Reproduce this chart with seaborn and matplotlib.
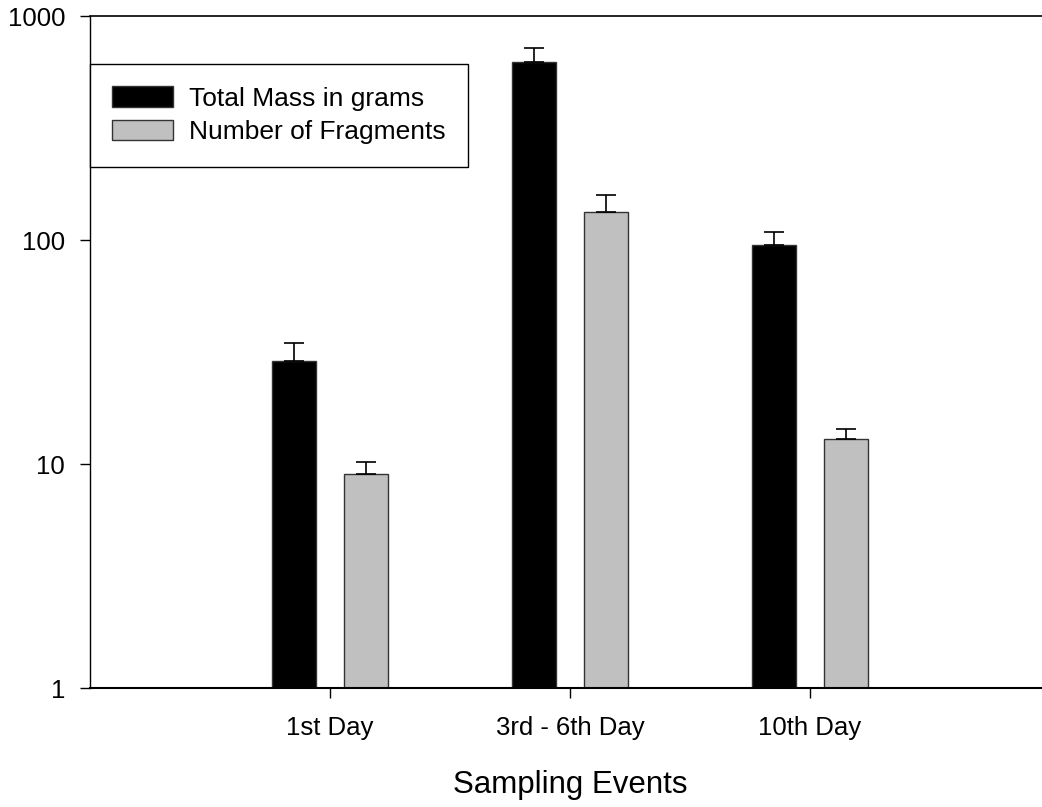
import numpy as np
import pandas as pd
import matplotlib
matplotlib.use('Agg')
import matplotlib.pyplot as plt
from matplotlib.ticker import NullLocator
import seaborn as sns

# values (log axis)
events = ['1st Day', '3rd - 6th Day', '10th Day']
series = ['Total Mass in grams', 'Number of Fragments']
mass = [28.9, 623, 94.7]
mass_err = [5.9, 98, 13.5]
fragments = [9.0, 133.7, 12.9]
fragments_err = [1.24, 25.1, 1.5]
yticks = [1, 10, 100, 1000]

df = pd.DataFrame({'event': events * 2,
                   'series': [series[0]] * 3 + [series[1]] * 3,
                   'value': mass + fragments})

sns.set_style('ticks')
plt.rcParams['font.family'] = ['Liberation Sans', 'DejaVu Sans']
plt.rcParams['text.color'] = 'black'
plt.rcParams['axes.labelcolor'] = 'black'
plt.rcParams['xtick.color'] = 'black'
plt.rcParams['ytick.color'] = 'black'

fig = plt.figure(figsize=(10.42, 8.07), dpi=100)
ax = fig.add_axes([90 / 1042, 119 / 807, 960 / 1042, 672 / 807])
ax.set_yscale('log')

sns.barplot(data=df, x='event', y='value', hue='series', hue_order=series,
            palette=['black', '#c0c0c0'], width=0.6, gap=0.389,
            edgecolor='#333333', linewidth=1, errorbar=None, ax=ax)

# one-sided error bars on top of each bar
for cont, vals, errs in zip(ax.containers, [mass, fragments], [mass_err, fragments_err]):
    xs = [p.get_x() + p.get_width() / 2 for p in cont]
    ax.errorbar(xs, vals, yerr=[np.zeros(len(errs)), errs], fmt='none',
                ecolor='black', elinewidth=1.2, capsize=7.5, capthick=1.2, zorder=3)

ax.set_xlim(-1, 3)
ax.set_ylim(1, 1000)
ax.set_yticks(yticks)
ax.set_yticklabels([str(t) for t in yticks])
ax.yaxis.set_minor_locator(NullLocator())

ax.set_xlabel('Sampling Events', fontsize=22.5, labelpad=22)
ax.set_ylabel('')
ax.tick_params(axis='both', labelsize=18.5, length=7, width=1,
               direction='out')
ax.tick_params(axis='x', pad=13)
ax.tick_params(axis='y', pad=11)

ax.spines['right'].set_visible(False)
ax.spines['top'].set_visible(True)
ax.spines['left'].set_linewidth(1.0)
ax.spines['top'].set_linewidth(1.2)
ax.spines['bottom'].set_linewidth(1.5)
for s in ['left', 'top', 'bottom']:
    ax.spines[s].set_color('black')

h, l = ax.get_legend_handles_labels()
ax.get_legend().remove()
leg = ax.legend(h, l, loc='upper left', bbox_to_anchor=(90 / 1042, 1 - 64 / 807),
                bbox_transform=fig.transFigure, borderaxespad=0, fontsize=19,
                handlelength=2.3, handleheight=0.8, handletextpad=0.6,
                borderpad=0.85, labelspacing=0.36, frameon=True, fancybox=False,
                edgecolor='black', framealpha=1)
leg.get_frame().set_linewidth(1)

fig.savefig('out.png', dpi=100)
